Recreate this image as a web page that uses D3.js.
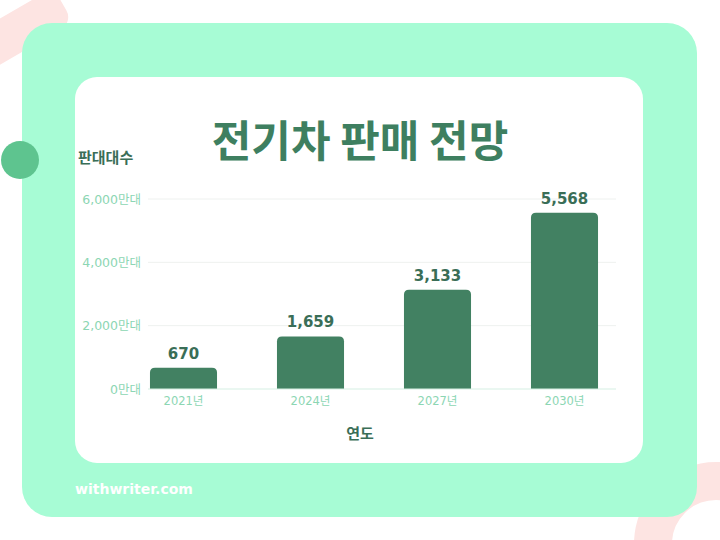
<!DOCTYPE html>
<html><head><meta charset="utf-8">
<script src="https://cdn.jsdelivr.net/npm/d3@7"></script>
<style>html,body{margin:0;padding:0;background:#fff;}svg{display:block;}</style>
</head><body>
<script>
const years = ["2021년", "2024년", "2027년", "2030년"];
const sales = [670, 1659, 3133, 5568];
const yTicks = [0, 2000, 4000, 6000];
const title = "전기차 판매 전망";
const yTitle = "판대대수";
const xTitle = "연도";
const footer = "withwriter.com";

const W = 720, H = 540;
const font = "'Noto Sans CJK KR', 'Noto Sans', sans-serif";
const numFont = "'DejaVu Sans', 'Noto Sans CJK KR', sans-serif";
const svg = d3.select("body").append("svg").attr("width", W).attr("height", H);

// decorations
svg.append("rect").attr("x", -30).attr("y", 10).attr("width", 100).attr("height", 40).attr("rx", 14)
  .attr("fill", "#fde4e2").attr("transform", "rotate(-30 20 30)");
svg.append("circle").attr("cx", 716).attr("cy", 544).attr("r", 63).attr("fill", "none")
  .attr("stroke", "#fde4e2").attr("stroke-width", 38);
svg.append("rect").attr("x", 22).attr("y", 23).attr("width", 675).attr("height", 494).attr("rx", 30).attr("fill", "#a7fcd5");
svg.append("rect").attr("x", 75).attr("y", 77).attr("width", 568).attr("height", 386).attr("rx", 22).attr("fill", "#ffffff");
svg.append("circle").attr("cx", 20).attr("cy", 160).attr("r", 19).attr("fill", "#5ec48f");

svg.append("text").attr("x", 360).attr("y", 157).attr("text-anchor", "middle")
  .attr("font-family", font).attr("font-weight", 700).attr("font-size", 43).attr("fill", "#3e7f60").text(title);
svg.append("text").attr("x", 78).attr("y", 163).attr("font-family", font).attr("font-weight", 700)
  .attr("font-size", 15).attr("fill", "#3a6e57").text(yTitle);
svg.append("text").attr("x", 75).attr("y", 494).attr("font-family", numFont).attr("font-weight", 700)
  .attr("font-size", 14).attr("fill", "#ffffff").text(footer);

const x = d3.scaleBand().domain(years).range([120, 628]).paddingInner(0.472).paddingOuter(0.236);
const y = d3.scaleLinear().domain([0, 6000]).range([389, 199]);

const g = svg.append("g");
// grid
g.selectAll("line.grid").data(yTicks.filter(d => d > 0)).join("line")
  .attr("x1", 148).attr("x2", 616).attr("y1", d => y(d)).attr("y2", d => y(d))
  .attr("stroke", "#eef1ef").attr("stroke-width", 1);

// y axis
const yAxis = g.append("g").attr("transform", "translate(141,0)")
  .call(d3.axisLeft(y).tickValues(yTicks).tickSize(0).tickPadding(0).tickFormat(d => d3.format(",")(d) + "만대"));
yAxis.select(".domain").remove();
yAxis.selectAll("text").attr("font-family", numFont).attr("font-size", 12.5).attr("fill", "#8cd6b3");

// bars with rounded top
const r = 5;
g.selectAll("path.bar").data(sales).join("path")
  .attr("fill", "#428162")
  .attr("d", (d, i) => {
    const x0 = x(years[i]), w = x.bandwidth(), y0 = y(d), yb = y(0);
    return `M${x0},${yb}V${y0 + r}Q${x0},${y0} ${x0 + r},${y0}H${x0 + w - r}Q${x0 + w},${y0} ${x0 + w},${y0 + r}V${yb}Z`;
  });

// baseline
g.append("line").attr("x1", 148).attr("x2", 616).attr("y1", y(0)).attr("y2", y(0)).attr("stroke", "#d5efe3");

// value labels
g.selectAll("text.val").data(sales).join("text")
  .attr("x", (d, i) => x(years[i]) + x.bandwidth() / 2).attr("y", d => y(d) - 9)
  .attr("text-anchor", "middle").attr("font-family", numFont).attr("font-weight", 700)
  .attr("font-size", 15).attr("fill", "#3a6e57").text(d => d3.format(",")(d));

// x axis
const xAxis = g.append("g").attr("transform", "translate(0,389)")
  .call(d3.axisBottom(x).tickSize(0).tickPadding(8));
xAxis.select(".domain").remove();
xAxis.selectAll("text").attr("font-family", numFont).attr("font-size", 11.5).attr("fill", "#8cd6b3");

svg.append("text").attr("x", 360).attr("y", 439).attr("text-anchor", "middle").attr("font-family", font)
  .attr("font-weight", 700).attr("font-size", 15).attr("fill", "#3a6e57").text(xTitle);
</script>
</body></html>
